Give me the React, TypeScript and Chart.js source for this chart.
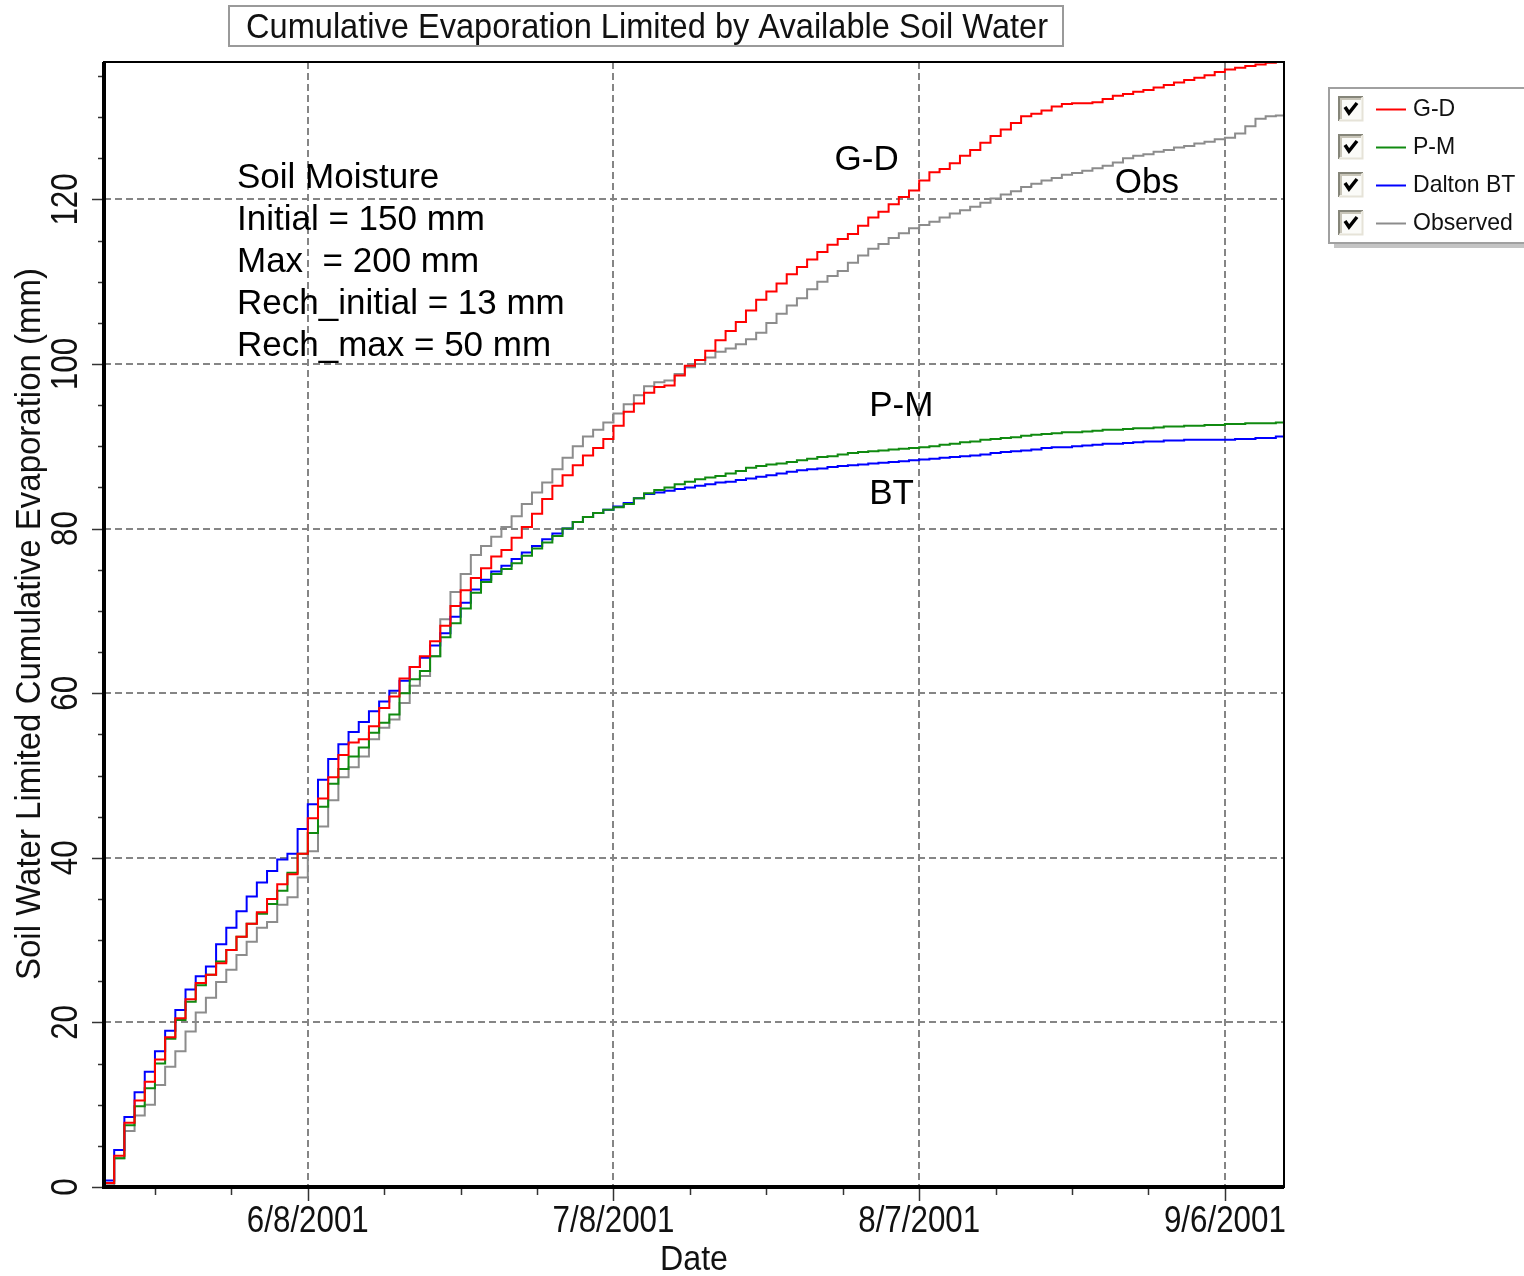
import React, { useEffect, useRef } from "react";
import { Chart, registerables } from "chart.js";

Chart.register(...registerables);

// Day 0 = 5/19/2001, one value per day (cumulative mm)
const START = { y: 2001, m: 4, d: 19 };

const GD = [
  0.5, 3.8, 7.8, 10.5, 12.8, 15.5, 18.2, 20.5, 22.8, 24.8,
  25.8, 27.2, 28.8, 30.4, 32.0, 33.4, 35.0, 36.8, 38.0, 40.5,
  44.8, 47.2, 49.8, 52.5, 54.0, 54.4, 56.0, 58.2, 59.6, 61.8,
  63.2, 64.5, 66.3, 68.2, 70.6, 72.5, 74.0, 75.2, 76.6, 77.4,
  78.9, 80.2, 81.8, 83.6, 85.2, 86.5, 87.7, 88.9, 89.8, 90.9,
  92.5, 94.2, 95.2, 96.5, 97.2, 97.4, 98.6, 99.8, 100.5, 101.6,
  102.9, 104.0, 105.1, 106.5, 107.8, 108.8, 109.8, 110.9, 111.8, 112.7,
  113.6, 114.5, 115.2, 115.8, 116.8, 117.8, 118.5, 119.4, 120.3, 121.1,
  122.3, 123.3, 123.7, 124.4, 125.3, 126.0, 126.9, 127.7, 128.5, 129.3,
  130.1, 130.4, 130.8, 131.3, 131.6, 131.7, 131.7, 131.8, 132.2, 132.6,
  132.8, 133.1, 133.3, 133.6, 133.9, 134.2, 134.5, 134.8, 135.1, 135.5,
  135.8, 136.0, 136.2, 136.4, 136.6, 136.7, 136.7,
];

const PM = [
  0.5, 3.5, 7.5, 9.8, 12.0, 15.0, 18.0, 20.3, 22.5, 24.5,
  25.8, 27.4, 28.8, 30.4, 32.0, 33.2, 34.4, 36.0, 38.2, 40.5,
  43.0, 46.2, 49.0, 50.8, 52.3, 53.4, 55.2, 56.4, 57.4, 60.0,
  61.7, 62.7, 64.5, 66.8, 68.5, 70.3, 72.2, 73.5, 74.5, 75.1,
  75.8, 76.7, 77.6, 78.3, 79.1, 80.0, 80.8, 81.4, 81.9, 82.3,
  82.6, 83.0, 83.7, 84.3, 84.7, 85.0, 85.4, 85.7, 86.0, 86.2,
  86.4, 86.7, 87.0, 87.4, 87.6, 87.8, 87.9, 88.1, 88.3, 88.5,
  88.7, 88.8, 89.0, 89.2, 89.3, 89.4, 89.5, 89.6, 89.7, 89.8,
  89.9, 90.0, 90.2, 90.3, 90.5, 90.6, 90.8, 90.9, 91.0, 91.1,
  91.3, 91.4, 91.5, 91.6, 91.7, 91.7, 91.8, 91.9, 92.0, 92.0,
  92.1, 92.2, 92.2, 92.3, 92.4, 92.4, 92.5, 92.5, 92.6, 92.6,
  92.7, 92.7, 92.8, 92.8, 92.8, 92.9, 92.9,
];

const BT = [
  0.8, 4.5, 8.5, 11.5, 14.0, 16.5, 19.0, 21.5, 24.0, 25.6,
  26.8, 29.5, 31.5, 33.5, 35.3, 37.0, 38.4, 39.8, 40.5, 43.5,
  46.5, 49.5, 52.0, 53.8, 55.3, 56.5, 57.8, 59.0, 60.3, 61.5,
  63.2, 64.3, 65.8, 67.3, 69.3, 71.0, 72.6, 73.8, 74.8, 75.5,
  76.3, 77.1, 77.9, 78.7, 79.4, 80.0, 80.8, 81.4, 81.9, 82.3,
  82.7, 83.1, 83.7, 84.2, 84.4, 84.6, 84.8, 85.0, 85.2, 85.4,
  85.6, 85.7, 85.9, 86.1, 86.3, 86.5, 86.7, 86.9, 87.1, 87.2,
  87.3, 87.5, 87.6, 87.7, 87.8, 87.9, 88.0, 88.1, 88.2, 88.3,
  88.4, 88.5, 88.6, 88.7, 88.8, 88.9, 89.0, 89.2, 89.3, 89.4,
  89.5, 89.6, 89.8, 89.9, 89.9, 90.0, 90.1, 90.2, 90.3, 90.3,
  90.4, 90.5, 90.6, 90.6, 90.7, 90.7, 90.8, 90.8, 90.8, 90.8,
  90.8, 90.9, 90.9, 91.0, 91.0, 91.2, 91.2,
];

const OBS = [
  0.2, 3.5, 6.8, 8.7, 10.0, 12.4, 14.6, 16.5, 18.9, 21.2,
  23.0, 24.9, 26.4, 28.2, 29.8, 31.5, 32.2, 34.3, 35.2, 37.6,
  40.8, 43.8, 47.0, 49.8, 51.0, 52.3, 54.4, 55.8, 56.8, 58.8,
  60.9, 62.1, 64.5, 69.0, 72.3, 74.5, 76.8, 77.9, 79.0, 80.2,
  81.5, 83.0, 84.4, 85.6, 87.2, 88.6, 90.0, 91.2, 92.0, 92.9,
  94.0, 95.1, 96.2, 97.3, 97.8, 98.0, 98.8, 99.6, 100.0, 100.8,
  101.5, 101.9, 102.4, 103.0, 103.8, 105.0, 106.1, 107.1, 108.0, 109.1,
  110.0, 110.7, 111.3, 112.3, 113.2, 114.0, 114.6, 115.3, 115.9, 116.5,
  116.9, 117.3, 117.8, 118.3, 118.7, 119.1, 119.6, 120.1, 120.6, 121.0,
  121.5, 121.9, 122.3, 122.6, 123.0, 123.2, 123.5, 123.8, 124.1, 124.5,
  125.0, 125.3, 125.5, 125.8, 126.0, 126.3, 126.5, 126.8, 127.0, 127.3,
  127.5, 128.0, 128.9, 129.8, 130.1, 130.2, 130.2,
];

const SERIES_NAMES = ["G-D", "P-M", "Dalton BT", "Observed"];
const SERIES_COLORS = ["#ff0000", "#108a10", "#0000ff", "#8c8c8c"];

const X_TICK_DAYS = [5, 12.5, 20, 27.5, 35, 42.5, 50, 57.5, 65, 72.5, 80, 87.5, 95, 102.5, 110];
const X_LABEL_DAYS = [20, 50, 80, 110];
const Y_TICKS = [0, 5, 10, 15, 20, 25, 30, 35, 40, 45, 50, 55, 60, 65, 70, 75, 80, 85, 90, 95, 100, 105, 110, 115, 120, 125, 130, 135];
const Y_LABELS = [0, 20, 40, 60, 80, 100, 120];

const TITLE = "Cumulative Evaporation Limited by Available Soil Water";
const Y_TITLE = "Soil Water Limited Cumulative Evaporation (mm)";
const X_TITLE = "Date";

const NOTE_LINES = ["Soil Moisture", "Initial = 150 mm", "Max  = 200 mm", "Rech_initial = 13 mm", "Rech_max = 50 mm"];
const NOTE_ANCHOR = { day: 13.05, value: 122.6 };
const CURVE_LABELS = [
  { text: "G-D", day: 71.7, value: 124.8 },
  { text: "Obs", day: 99.2, value: 121.9 },
  { text: "P-M", day: 75.1, value: 94.9 },
  { text: "BT", day: 75.1, value: 84.2 },
];

const FONT = '"Liberation Sans", Arial, sans-serif';

function dayLabel(day: number): string {
  const dt = new Date(START.y, START.m, START.d + day);
  return `${dt.getMonth() + 1}/${dt.getDate()}/${dt.getFullYear()}`;
}

function drawText(
  ctx: CanvasRenderingContext2D,
  s: string,
  x: number,
  y: number,
  size: number,
  o: { width?: number; scaleX?: number; align?: CanvasTextAlign; rot?: number; color?: string } = {}
) {
  ctx.save();
  ctx.font = `${size}px ${FONT}`;
  ctx.fillStyle = o.color || "#000";
  ctx.textBaseline = "middle";
  ctx.textAlign = o.align || "center";
  ctx.translate(x, y);
  if (o.rot) ctx.rotate(o.rot);
  let sx = o.scaleX ?? 1;
  if (o.width) sx = o.width / ctx.measureText(s).width;
  ctx.scale(sx, 1);
  ctx.fillText(s, 0, 0);
  ctx.restore();
}

const decorPlugin = {
  id: "decor",
  beforeDatasetsDraw(chart: any) {
    const { ctx, chartArea: a, scales } = chart;
    const xs = scales.x;
    const ys = scales.y;
    ctx.save();
    ctx.strokeStyle = "#858585";
    ctx.lineWidth = 2;
    ctx.setLineDash([7, 4]);
    for (const d of X_LABEL_DAYS) {
      const px = Math.round(xs.getPixelForValue(d));
      ctx.beginPath();
      ctx.moveTo(px, a.top);
      ctx.lineTo(px, a.bottom);
      ctx.stroke();
    }
    for (const v of Y_LABELS) {
      if (v === 0) continue;
      const py = Math.round(ys.getPixelForValue(v));
      ctx.beginPath();
      ctx.moveTo(a.left, py);
      ctx.lineTo(a.right, py);
      ctx.stroke();
    }
    ctx.restore();
  },
  afterDatasetsDraw(chart: any) {
    const { ctx, chartArea: a, scales } = chart;
    const xs = scales.x;
    const ys = scales.y;
    ctx.save();
    // frame
    ctx.strokeStyle = "#000";
    ctx.lineWidth = 2;
    ctx.strokeRect(a.left, a.top, a.right - a.left, a.bottom - a.top);
    ctx.lineWidth = 4;
    ctx.beginPath();
    ctx.moveTo(a.left, a.top);
    ctx.lineTo(a.left, a.bottom);
    ctx.lineTo(a.right, a.bottom);
    ctx.stroke();

    // ticks
    ctx.lineWidth = 1.5;
    ctx.strokeStyle = "#333";
    for (const d of X_TICK_DAYS) {
      const px = Math.round(xs.getPixelForValue(d)) + 0.5;
      const major = X_LABEL_DAYS.includes(d);
      ctx.beginPath();
      ctx.moveTo(px, a.bottom + 2);
      ctx.lineTo(px, a.bottom + (major ? 14 : 8));
      ctx.stroke();
    }
    for (const v of Y_TICKS) {
      const py = Math.round(ys.getPixelForValue(v)) + 0.5;
      const major = Y_LABELS.includes(v);
      ctx.beginPath();
      ctx.moveTo(a.left - 2, py);
      ctx.lineTo(a.left - (major ? 12 : 6), py);
      ctx.stroke();
    }

    // tick labels
    for (const d of X_LABEL_DAYS) {
      drawText(ctx, dayLabel(d), xs.getPixelForValue(d), a.bottom + 35, 36, { scaleX: 0.87, color: "#111" });
    }
    for (const v of Y_LABELS) {
      drawText(ctx, String(v), a.left - 37, ys.getPixelForValue(v), 36, { scaleX: 0.87, rot: -Math.PI / 2, color: "#111" });
    }

    // axis titles
    drawText(ctx, X_TITLE, (a.left + a.right) / 2, a.bottom + 73, 35, { width: 68, color: "#111" });
    drawText(ctx, Y_TITLE, a.left - 74, 624, 35, { width: 712, rot: -Math.PI / 2, color: "#111" });

    // notes
    const nx = xs.getPixelForValue(NOTE_ANCHOR.day);
    const ny = ys.getPixelForValue(NOTE_ANCHOR.value);
    NOTE_LINES.forEach((line, i) => {
      drawText(ctx, line, nx, ny + i * 42.2, 35, { align: "left" });
    });
    for (const c of CURVE_LABELS) {
      drawText(ctx, c.text, xs.getPixelForValue(c.day), ys.getPixelForValue(c.value), 35, { align: "left" });
    }

    // title box
    const tb = { left: 229, top: 6, w: 834, h: 40 };
    ctx.fillStyle = "#fff";
    ctx.fillRect(tb.left, tb.top, tb.w, tb.h);
    ctx.strokeStyle = "#9a9a9a";
    ctx.lineWidth = 2;
    ctx.strokeRect(tb.left, tb.top, tb.w, tb.h);
    drawText(ctx, TITLE, tb.left + tb.w / 2 + 1, tb.top + tb.h / 2 + 2, 35, { width: 802, color: "#111" });

    // legend
    const lg = { left: 1329, top: 88, w: 210, h: 155 };
    ctx.fillStyle = "#c4c4c4";
    ctx.fillRect(lg.left + 5, lg.top + 5, lg.w, lg.h);
    ctx.fillStyle = "#fff";
    ctx.fillRect(lg.left, lg.top, lg.w, lg.h);
    ctx.strokeStyle = "#a0a0a0";
    ctx.lineWidth = 2;
    ctx.strokeRect(lg.left, lg.top, lg.w, lg.h);
    chart.data.datasets.forEach((ds: any, i: number) => {
      const cy = 109 + i * 38;
      const bx = 1338;
      const by = cy - 13;
      const bs = 25;
      ctx.fillStyle = "#fbfbf8";
      ctx.fillRect(bx, by, bs, bs);
      ctx.lineWidth = 2;
      ctx.strokeStyle = "#858579";
      ctx.beginPath();
      ctx.moveTo(bx + 1, by + bs);
      ctx.lineTo(bx + 1, by + 1);
      ctx.lineTo(bx + bs, by + 1);
      ctx.stroke();
      ctx.strokeStyle = "#c8c5b8";
      ctx.beginPath();
      ctx.moveTo(bx + 3, by + bs - 2);
      ctx.lineTo(bx + 3, by + 3);
      ctx.lineTo(bx + bs - 2, by + 3);
      ctx.stroke();
      ctx.strokeStyle = "#e6e3d8";
      ctx.beginPath();
      ctx.moveTo(bx + 1, by + bs - 0.5);
      ctx.lineTo(bx + bs - 0.5, by + bs - 0.5);
      ctx.lineTo(bx + bs - 0.5, by + 1);
      ctx.stroke();
      ctx.strokeStyle = "#000";
      ctx.lineWidth = 3.5;
      ctx.beginPath();
      ctx.moveTo(bx + 7, by + 11);
      ctx.lineTo(bx + 11, by + 17);
      ctx.lineTo(bx + 19, by + 7);
      ctx.stroke();
      ctx.strokeStyle = ds.borderColor;
      ctx.lineWidth = 2;
      ctx.beginPath();
      ctx.moveTo(1376, cy + 0.5);
      ctx.lineTo(1406, cy + 0.5);
      ctx.stroke();
      drawText(ctx, ds.label, 1413, cy, 24, { align: "left", scaleX: 0.96, color: "#111" });
    });
    ctx.restore();
  },
};

export default function App() {
  const ref = useRef<HTMLCanvasElement | null>(null);
  useEffect(() => {
    if (!ref.current) return;
    const allSeries = [GD, PM, BT, OBS];
    const chart = new Chart(ref.current, {
      type: "line",
      data: {
        datasets: allSeries.map((vals, i) => ({
          label: SERIES_NAMES[i],
          data: vals.map((v, d) => ({ x: d, y: v })),
          borderColor: SERIES_COLORS[i],
          borderWidth: 2,
          pointRadius: 0,
          stepped: true,
          fill: false,
        })),
      },
      options: {
        responsive: false,
        animation: false,
        devicePixelRatio: 1,
        layout: { padding: { left: 104, right: 240, top: 62, bottom: 89 } },
        plugins: { legend: { display: false }, tooltip: { enabled: false }, title: { display: false } },
        scales: {
          x: {
            type: "linear",
            min: 0,
            max: 115.8,
            ticks: { display: false },
            grid: { display: false },
            border: { display: false },
            afterFit: (s: any) => { s.height = 0; },
          },
          y: {
            type: "linear",
            min: 0,
            max: 136.7,
            ticks: { display: false },
            grid: { display: false },
            border: { display: false },
            afterFit: (s: any) => { s.width = 0; },
          },
        },
      },
      plugins: [decorPlugin],
    });
    return () => chart.destroy();
  }, []);
  return (
    <div style={{ position: "absolute", left: 0, top: 0, width: 1524, height: 1276, background: "#fff" }}>
      <canvas ref={ref} width={1524} height={1276} style={{ display: "block" }} />
    </div>
  );
}
